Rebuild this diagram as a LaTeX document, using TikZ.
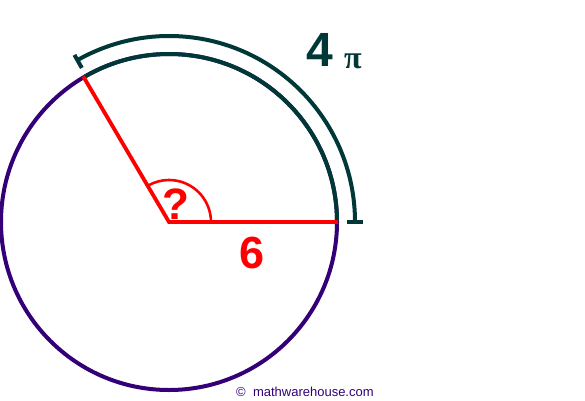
\documentclass[tikz,border=0pt]{standalone}
\usepackage{fontspec}
\usetikzlibrary{calc}
\setmainfont{Liberation Sans}
\newfontfamily\pifont{Liberation Serif}
\definecolor{circ}{HTML}{330077}
\definecolor{teal2}{HTML}{003838}
\definecolor{redc}{HTML}{FF0000}
\tikzset{
  mainline/.style={line width=4pt},
  redline/.style={draw=redc, line width=3.8pt},
  tealline/.style={draw=teal2, line width=4pt},
  lbl/.style={inner sep=0pt, font=\bfseries}
}
\begin{document}
\begin{tikzpicture}[x=1pt,y=1pt]
\useasboundingbox (0,0) rectangle (585,400);
\fill[white] (0,0) rectangle (585,400);
\coordinate (C) at (169,178);
% circle
\draw[circ, mainline] (C) circle (168);
% teal overlay on circle from 0 to 120
\draw[tealline] ($(C)+(0:168)$) arc (0:120:168);
% outer arc
\draw[tealline] ($(C)+(0:186)$) arc (0:119.5:186);
\draw[tealline] ($(C)+(0:178)$) -- ($(C)+(0:194)$);
\draw[tealline] ($(C)+(119.5:177)$) -- ($(C)+(119.5:192)$);
% radii
\coordinate (A) at ($(C)+(0:169)$);
\coordinate (B) at ($(C)+(120.5:169)$);
\draw[redline] (B) -- (C) -- (A);
\draw[draw=redc, line width=2.6pt] ($(C)+(0:42)$) arc (0:120:42);
% labels
\node[lbl, text=redc, font=\bfseries\fontsize{44}{44}\selectfont] (q) at (176,196) {?};
\node[lbl, text=redc, font=\bfseries\fontsize{45}{45}\selectfont] (six) at (252,147) {6};
\node[lbl, text=teal2, font=\bfseries\fontsize{48}{48}\selectfont] (four) at (320,350) {4};
\node[lbl, text=teal2, font=\pifont\bfseries\fontsize{32}{32}\selectfont] (pi) at (353,339) {π};
\node[inner sep=0pt, text=circ, font=\fontsize{13}{13}\selectfont, anchor=west] (copy) at (236,8) {©\ \ mathwarehouse.com};
\end{tikzpicture}
\end{document}
